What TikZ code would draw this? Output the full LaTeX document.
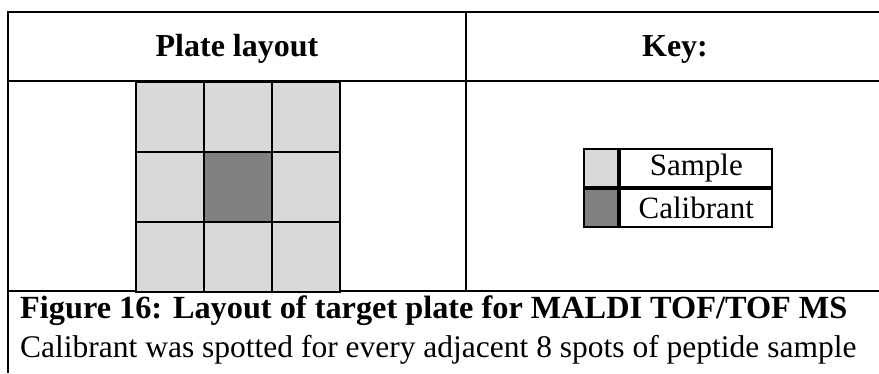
\documentclass[tikz,border=0pt]{standalone}
\usepackage{fontspec}
\setmainfont{Liberation Serif}
\usetikzlibrary{positioning}
\definecolor{samplegray}{HTML}{D9D9D9}
\definecolor{calgray}{HTML}{808080}
\tikzset{
  rule/.style={line width=2.5pt},
  spot/.style={draw, line width=2.2pt, minimum width=68pt, minimum height=70pt, inner sep=0pt, anchor=north west},
  swatch/.style={draw, line width=2.2pt, minimum width=34pt, minimum height=38pt, inner sep=0pt},
  keylabel/.style={draw, line width=2.2pt, minimum width=152pt, minimum height=38pt, inner sep=0pt, font=\fontsize{31}{36}\selectfont},
  head/.style={anchor=base, font=\fontsize{32}{38}\selectfont\bfseries},
}

\begin{document}
\begin{tikzpicture}[x=1pt, y=-1pt]
\useasboundingbox (0,0) rectangle (879,373);

% table rules
\draw[rule] (879,12) -- (8,12) -- (8,373);
\draw[rule] (8,81) -- (879,81);
\draw[rule] (8,291) -- (879,291);
\draw[rule] (466,12) -- (466,291);

\node[head] (platehead) at (237,56) {Plate layout};
\node[head] (keyhead) at (675,56) {Key:};

% 3x3 plate, calibrant in the middle
\foreach \r in {0,1,2}
  \foreach \c in {0,1,2} {
    \ifnum\r\c=11 \def\spotfill{calgray}\else\def\spotfill{samplegray}\fi
    \node[spot, fill=\spotfill] (spot-\r\c) at (135+68*\c, 81+70*\r) {};
  }

\node[swatch, fill=samplegray, anchor=north west] (keysample) at (583,148) {};
\node[swatch, fill=calgray, below=0pt of keysample] (keycal) {};
\node[keylabel, right=0pt of keysample] (samplelabel) {Sample};
\node[keylabel, right=0pt of keycal] (callabel) {Calibrant};

\node[anchor=base west, inner sep=0pt, font=\fontsize{32.3}{38}\selectfont\bfseries] (caption) at (20,318)
  {Figure 16: Layout of target plate for MALDI TOF/TOF MS};
\node[anchor=base west, inner sep=0pt, font=\fontsize{31.5}{38}\selectfont] (note) at (20,357)
  {Calibrant was spotted for every adjacent 8 spots of peptide sample};
\end{tikzpicture}
\end{document}
